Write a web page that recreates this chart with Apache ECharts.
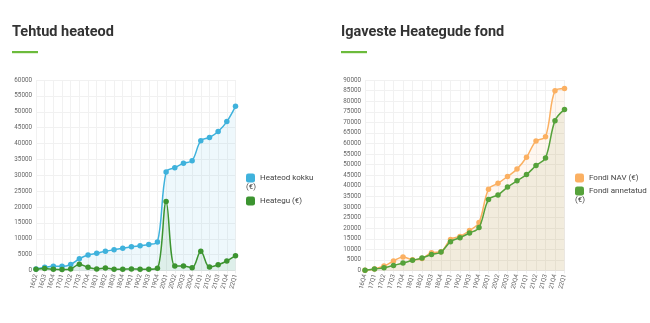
<!DOCTYPE html>
<html><head><meta charset="utf-8">
<script src="https://cdn.jsdelivr.net/npm/echarts@6/dist/echarts.min.js"></script>
<style>html,body{margin:0;padding:0;background:#fff;}#c{width:650px;height:323px;}</style>
</head><body><div id="c"></div>
<script>
var leftCats = ['16Q2','16Q3','16Q4','17Q1','17Q2','17Q3','17Q4','18Q1','18Q2','18Q3','18Q4','19Q1','19Q2','19Q3','19Q4','20Q1','20Q2','20Q3','20Q4','21Q1','21Q2','21Q3','21Q4','22Q1'];
var heateodKokku = [450,1000,1300,1300,1900,3700,4900,5400,6100,6500,7000,7500,7800,8200,9000,31000,32400,33800,34600,40900,41900,43800,46900,51700];
var heategu = [400,600,400,300,500,2000,1000,500,800,400,400,500,400,400,700,21700,1400,1400,900,6100,1100,1800,3000,4650];

var rightCats = ['16Q4','17Q1','17Q2','17Q3','17Q4','18Q1','18Q2','18Q3','18Q4','19Q1','19Q2','19Q3','19Q4','20Q1','20Q2','20Q3','20Q4','21Q1','21Q2','21Q3','21Q4','22Q1'];
var fondiNAV = [100,700,2100,4500,6400,5100,5700,8400,8900,14700,16100,18900,22700,38400,41200,44400,47900,53500,61200,63200,84900,86000];
var fondiAnnetatud = [100,700,1300,2400,3500,4800,5900,7600,8700,13600,15500,17700,20300,33500,35700,39400,42400,45300,49600,53200,70800,76100];

var leftTitle = 'Tehtud heateod';
var rightTitle = 'Igaveste Heategude fond';

var FONT = 'Roboto, "Liberation Sans", sans-serif';
var chart = echarts.init(document.getElementById('c'), null, {renderer:'canvas'});

function xAx(gi, cats){
  return {type:'category', gridIndex:gi, data:cats, boundaryGap:false,
    axisLine:{show:true, lineStyle:{color:'#e8e8e8'}},
    axisTick:{show:true, length:3, lineStyle:{color:'#eeeeee'}},
    splitLine:{show:true, lineStyle:{color:'#f1f1f1', width:1}},
    axisLabel:{rotate:75, fontSize:6.3, color:'#666', margin:4, fontFamily:FONT, interval:0}};
}
function yAx(gi, max){
  return {type:'value', gridIndex:gi, min:0, max:max, interval:5000,
    axisLine:{show:false}, axisTick:{show:false},
    splitLine:{show:true, lineStyle:{color:'#f1f1f1', width:1}},
    axisLabel:{fontSize:6.3, color:'#666', margin:4, fontFamily:FONT, formatter:function(v){return String(v);}}};
}
function ser(name, data, xi, color, area, z){
  return {name:name, type:'line', xAxisIndex:xi, yAxisIndex:xi, data:data, smooth:0.35,
    symbol:'circle', symbolSize:5.5, z:z,
    lineStyle:{color:color, width:1.5}, itemStyle:{color:color},
    areaStyle:{color:area, origin:'start'}};
}

chart.setOption({
  animation:false,
  textStyle:{fontFamily:FONT},
  grid:[
    {left:36, top:80, width:199.5, height:190.5},
    {left:365, top:80, width:199.5, height:190.5}
  ],
  xAxis:[xAx(0,leftCats), xAx(1,rightCats)],
  yAxis:[yAx(0,60000), yAx(1,90000)],
  legend:[
    {orient:'vertical', left:246, top:173, padding:0, itemWidth:9, itemHeight:9, icon:'roundRect', itemGap:13,
     data:['Heateod kokku (€)','Heategu (€)'],
     formatter:function(n){return n==='Heateod kokku (€)'?'Heateod kokku':n;},
     textStyle:{fontSize:8, color:'#444', fontFamily:FONT, lineHeight:10}},
    {orient:'vertical', left:575, top:173, padding:0, itemWidth:9, itemHeight:9, icon:'roundRect', itemGap:3,
     data:['Fondi NAV (€)','Fondi annetatud (€)'],
     formatter:function(n){return n==='Fondi annetatud (€)'?'Fondi annetatud':n;},
     textStyle:{fontSize:8, color:'#444', fontFamily:FONT, lineHeight:10}}
  ],
  graphic:[
    {type:'text', left:12, top:25, style:{text:leftTitle, font:'bold 14.5px '+FONT, fill:'#333'}},
    {type:'rect', shape:{x:12, y:51, width:26, height:2.2}, style:{fill:'#6cbb3c'}},
    {type:'text', left:341, top:25, style:{text:rightTitle, font:'bold 14.5px '+FONT, fill:'#333'}},
    {type:'rect', shape:{x:341, y:51, width:26, height:2.2}, style:{fill:'#6cbb3c'}},
    {type:'text', left:246, top:183, style:{text:'(€)', font:'8px '+FONT, fill:'#444'}},
    {type:'text', left:575, top:196, style:{text:'(€)', font:'8px '+FONT, fill:'#444'}}
  ],
  series:[
    ser('Heateod kokku (€)', heateodKokku, 0, '#3fb2dc', 'rgba(63,178,220,0.12)', 2),
    ser('Heategu (€)', heategu, 0, '#3c9430', 'rgba(60,148,48,0.12)', 3),
    ser('Fondi NAV (€)', fondiNAV, 1, '#fbb062', 'rgba(251,176,98,0.14)', 2),
    ser('Fondi annetatud (€)', fondiAnnetatud, 1, '#56a23b', 'rgba(120,130,40,0.14)', 3)
  ]
});
</script></body></html>
